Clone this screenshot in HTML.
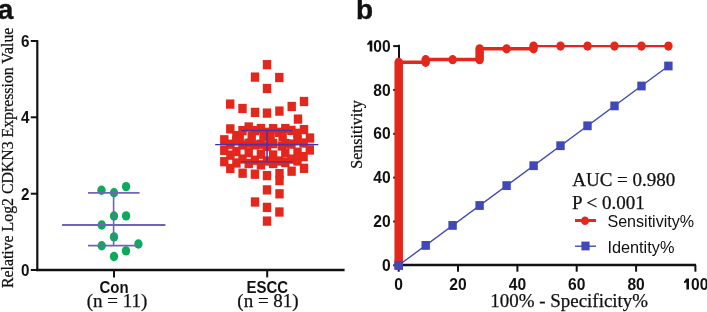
<!DOCTYPE html>
<html><head><meta charset="utf-8"><style>
html,body{margin:0;padding:0;background:#fff;width:707px;height:312px;overflow:hidden}
svg{display:block;will-change:transform}
.tb{font-family:"Liberation Sans",sans-serif;font-weight:bold;font-size:15.5px;fill:#111}
.ts{font-family:"Liberation Serif",serif;fill:#111;stroke:#111;stroke-width:0.25px}
.tr{font-family:"Liberation Sans",sans-serif;fill:#111}
</style></head><body>
<svg width="707" height="312" viewBox="0 0 707 312">
<line x1="37.3" y1="40.1" x2="37.3" y2="271.1" stroke="#111" stroke-width="2.2"/>
<line x1="30.8" y1="270.0" x2="37.3" y2="270.0" stroke="#111" stroke-width="2"/>
<line x1="30.8" y1="193.7" x2="37.3" y2="193.7" stroke="#111" stroke-width="2"/>
<line x1="30.8" y1="117.3" x2="37.3" y2="117.3" stroke="#111" stroke-width="2"/>
<line x1="30.8" y1="41.0" x2="37.3" y2="41.0" stroke="#111" stroke-width="2"/>
<line x1="36.2" y1="270" x2="344.6" y2="270" stroke="#111" stroke-width="2.4"/>
<line x1="114" y1="270" x2="114" y2="277.4" stroke="#111" stroke-width="2"/>
<line x1="267.2" y1="270" x2="267.2" y2="277.4" stroke="#111" stroke-width="2"/>
<text transform="translate(29.40 275.90) scale(1 1.08)" text-anchor="end" class="tb" style="font-size:15.2px">0</text>
<text transform="translate(29.40 199.56) scale(1 1.08)" text-anchor="end" class="tb" style="font-size:15.2px">2</text>
<text transform="translate(29.40 123.22) scale(1 1.08)" text-anchor="end" class="tb" style="font-size:15.2px">4</text>
<text transform="translate(29.40 46.88) scale(1 1.08)" text-anchor="end" class="tb" style="font-size:15.2px">6</text>
<text transform="translate(114.10 292.60) scale(1 1.1)" text-anchor="middle" class="tb" style="font-size:15px">Con</text>
<text transform="translate(267.20 292.60) scale(1 1.1)" text-anchor="middle" class="tb" style="font-size:15px">ESCC</text>
<text x="117" y="307" text-anchor="middle" class="ts" style="font-size:19px">(n = 11)</text>
<text x="268" y="307" text-anchor="middle" class="ts" style="font-size:19px">(n = 81)</text>
<text transform="translate(13 288) rotate(-90)" class="ts" style="font-size:15.8px">Relative Log2 CDKN3 Expression Value</text>
<text x="-2.3" y="19.2" class="tb" style="font-size:28px;stroke:#111;stroke-width:0.4">a</text>
<text x="356" y="19.2" class="tb" style="font-size:28px;stroke:#111;stroke-width:0.4">b</text>
<ellipse cx="101.5" cy="190.2" rx="4.2" ry="4.7" fill="#0DAA5C"/>
<ellipse cx="114" cy="192.7" rx="4.2" ry="4.7" fill="#0DAA5C"/>
<ellipse cx="126.1" cy="186.6" rx="4.2" ry="4.7" fill="#0DAA5C"/>
<ellipse cx="114" cy="216" rx="4.2" ry="4.7" fill="#0DAA5C"/>
<ellipse cx="126.1" cy="215.9" rx="4.2" ry="4.7" fill="#0DAA5C"/>
<ellipse cx="101.7" cy="225" rx="4.2" ry="4.7" fill="#0DAA5C"/>
<ellipse cx="114" cy="236.9" rx="4.2" ry="4.7" fill="#0DAA5C"/>
<ellipse cx="101.7" cy="245.7" rx="4.2" ry="4.7" fill="#0DAA5C"/>
<ellipse cx="126" cy="250.9" rx="4.2" ry="4.7" fill="#0DAA5C"/>
<ellipse cx="114" cy="256.5" rx="4.2" ry="4.7" fill="#0DAA5C"/>
<ellipse cx="138.4" cy="244" rx="4.2" ry="4.7" fill="#0DAA5C"/>
<line x1="62" y1="225" x2="165.4" y2="225" stroke="#7263BA" stroke-width="2"/>
<line x1="88" y1="192.8" x2="139.6" y2="192.8" stroke="#7263BA" stroke-width="1.8"/>
<line x1="88" y1="245.6" x2="139.2" y2="245.6" stroke="#7263BA" stroke-width="1.8"/>
<line x1="113.6" y1="192.8" x2="113.6" y2="245.6" stroke="#7263BA" stroke-width="1.6"/>
<rect x="262.80" y="60.05" width="8.4" height="9.3" fill="#E3271D"/>
<rect x="250.80" y="72.45" width="8.4" height="9.3" fill="#E3271D"/>
<rect x="275.10" y="72.85" width="8.4" height="9.3" fill="#E3271D"/>
<rect x="262.80" y="83.85" width="8.4" height="9.3" fill="#E3271D"/>
<rect x="226.00" y="99.45" width="8.4" height="9.3" fill="#E3271D"/>
<rect x="299.80" y="96.85" width="8.4" height="9.3" fill="#E3271D"/>
<rect x="238.30" y="103.85" width="8.4" height="9.3" fill="#E3271D"/>
<rect x="287.50" y="101.85" width="8.4" height="9.3" fill="#E3271D"/>
<rect x="250.80" y="107.75" width="8.4" height="9.3" fill="#E3271D"/>
<rect x="262.80" y="108.45" width="8.4" height="9.3" fill="#E3271D"/>
<rect x="275.20" y="106.45" width="8.4" height="9.3" fill="#E3271D"/>
<rect x="293.80" y="114.45" width="8.4" height="9.3" fill="#E3271D"/>
<rect x="244.50" y="122.35" width="8.4" height="9.3" fill="#E3271D"/>
<rect x="256.70" y="123.85" width="8.4" height="9.3" fill="#E3271D"/>
<rect x="268.90" y="124.05" width="8.4" height="9.3" fill="#E3271D"/>
<rect x="281.10" y="123.95" width="8.4" height="9.3" fill="#E3271D"/>
<rect x="226.10" y="124.25" width="8.4" height="9.3" fill="#E3271D"/>
<rect x="238.30" y="125.95" width="8.4" height="9.3" fill="#E3271D"/>
<rect x="250.60" y="125.95" width="8.4" height="9.3" fill="#E3271D"/>
<rect x="262.80" y="127.65" width="8.4" height="9.3" fill="#E3271D"/>
<rect x="275.00" y="127.65" width="8.4" height="9.3" fill="#E3271D"/>
<rect x="287.20" y="125.75" width="8.4" height="9.3" fill="#E3271D"/>
<rect x="299.80" y="124.95" width="8.4" height="9.3" fill="#E3271D"/>
<rect x="220.10" y="135.15" width="8.4" height="9.3" fill="#E3271D"/>
<rect x="232.20" y="130.95" width="8.4" height="9.3" fill="#E3271D"/>
<rect x="232.20" y="135.85" width="8.4" height="9.3" fill="#E3271D"/>
<rect x="244.50" y="138.55" width="8.4" height="9.3" fill="#E3271D"/>
<rect x="256.70" y="139.55" width="8.4" height="9.3" fill="#E3271D"/>
<rect x="268.90" y="138.95" width="8.4" height="9.3" fill="#E3271D"/>
<rect x="281.10" y="138.85" width="8.4" height="9.3" fill="#E3271D"/>
<rect x="293.30" y="128.65" width="8.4" height="9.3" fill="#E3271D"/>
<rect x="293.30" y="135.45" width="8.4" height="9.3" fill="#E3271D"/>
<rect x="305.80" y="133.35" width="8.4" height="9.3" fill="#E3271D"/>
<rect x="235.50" y="131.65" width="8.4" height="9.3" fill="#E3271D"/>
<rect x="247.50" y="131.55" width="8.4" height="9.3" fill="#E3271D"/>
<rect x="259.30" y="132.05" width="8.4" height="9.3" fill="#E3271D"/>
<rect x="266.40" y="132.65" width="8.4" height="9.3" fill="#E3271D"/>
<rect x="278.40" y="131.85" width="8.4" height="9.3" fill="#E3271D"/>
<rect x="226.20" y="139.55" width="8.4" height="9.3" fill="#E3271D"/>
<rect x="238.30" y="140.35" width="8.4" height="9.3" fill="#E3271D"/>
<rect x="250.60" y="140.25" width="8.4" height="9.3" fill="#E3271D"/>
<rect x="262.80" y="141.65" width="8.4" height="9.3" fill="#E3271D"/>
<rect x="277.60" y="141.35" width="8.4" height="9.3" fill="#E3271D"/>
<rect x="287.20" y="139.45" width="8.4" height="9.3" fill="#E3271D"/>
<rect x="299.40" y="138.35" width="8.4" height="9.3" fill="#E3271D"/>
<rect x="220.10" y="145.65" width="8.4" height="9.3" fill="#E3271D"/>
<rect x="232.20" y="146.85" width="8.4" height="9.3" fill="#E3271D"/>
<rect x="244.50" y="147.95" width="8.4" height="9.3" fill="#E3271D"/>
<rect x="256.70" y="149.55" width="8.4" height="9.3" fill="#E3271D"/>
<rect x="268.90" y="150.35" width="8.4" height="9.3" fill="#E3271D"/>
<rect x="281.10" y="148.35" width="8.4" height="9.3" fill="#E3271D"/>
<rect x="293.30" y="147.55" width="8.4" height="9.3" fill="#E3271D"/>
<rect x="305.60" y="145.35" width="8.4" height="9.3" fill="#E3271D"/>
<rect x="226.20" y="150.55" width="8.4" height="9.3" fill="#E3271D"/>
<rect x="238.30" y="154.35" width="8.4" height="9.3" fill="#E3271D"/>
<rect x="250.60" y="155.55" width="8.4" height="9.3" fill="#E3271D"/>
<rect x="262.80" y="156.35" width="8.4" height="9.3" fill="#E3271D"/>
<rect x="275.00" y="156.35" width="8.4" height="9.3" fill="#E3271D"/>
<rect x="287.20" y="154.45" width="8.4" height="9.3" fill="#E3271D"/>
<rect x="299.40" y="151.95" width="8.4" height="9.3" fill="#E3271D"/>
<rect x="220.10" y="157.05" width="8.4" height="9.3" fill="#E3271D"/>
<rect x="232.20" y="158.35" width="8.4" height="9.3" fill="#E3271D"/>
<rect x="244.50" y="158.85" width="8.4" height="9.3" fill="#E3271D"/>
<rect x="256.70" y="160.15" width="8.4" height="9.3" fill="#E3271D"/>
<rect x="268.90" y="158.85" width="8.4" height="9.3" fill="#E3271D"/>
<rect x="281.10" y="157.85" width="8.4" height="9.3" fill="#E3271D"/>
<rect x="293.30" y="156.35" width="8.4" height="9.3" fill="#E3271D"/>
<rect x="226.10" y="163.85" width="8.4" height="9.3" fill="#E3271D"/>
<rect x="238.40" y="168.55" width="8.4" height="9.3" fill="#E3271D"/>
<rect x="250.70" y="169.55" width="8.4" height="9.3" fill="#E3271D"/>
<rect x="262.80" y="170.95" width="8.4" height="9.3" fill="#E3271D"/>
<rect x="275.30" y="168.95" width="8.4" height="9.3" fill="#E3271D"/>
<rect x="287.40" y="166.55" width="8.4" height="9.3" fill="#E3271D"/>
<rect x="299.80" y="163.65" width="8.4" height="9.3" fill="#E3271D"/>
<rect x="275.30" y="175.95" width="8.4" height="9.3" fill="#E3271D"/>
<rect x="262.80" y="185.25" width="8.4" height="9.3" fill="#E3271D"/>
<rect x="275.30" y="189.15" width="8.4" height="9.3" fill="#E3271D"/>
<rect x="250.80" y="197.35" width="8.4" height="9.3" fill="#E3271D"/>
<rect x="262.80" y="202.75" width="8.4" height="9.3" fill="#E3271D"/>
<rect x="275.20" y="207.35" width="8.4" height="9.3" fill="#E3271D"/>
<rect x="262.80" y="216.45" width="8.4" height="9.3" fill="#E3271D"/>
<line x1="215.2" y1="144.5" x2="318.3" y2="144.5" stroke="#3A30AA" stroke-width="1.25"/>
<line x1="220.1" y1="144.5" x2="313.8" y2="144.5" stroke="#5031A6" stroke-width="1.3"/>
<line x1="241" y1="130.5" x2="292.4" y2="130.5" stroke="#5031A6" stroke-width="1.4"/>
<line x1="241" y1="161.9" x2="292.4" y2="161.9" stroke="#5031A6" stroke-width="1.4"/>
<line x1="267.05" y1="130.5" x2="267.05" y2="161.9" stroke="#5031A6" stroke-width="1.6"/>
<line x1="399.0" y1="44.8" x2="399.0" y2="266" stroke="#111" stroke-width="2"/>
<line x1="393.2" y1="265.3" x2="399.0" y2="265.3" stroke="#111" stroke-width="2"/>
<text transform="translate(390.60 270.90) scale(1 1.05)" text-anchor="end" class="tb" style="font-size:15.6px">0</text>
<line x1="393.2" y1="221.5" x2="399.0" y2="221.5" stroke="#111" stroke-width="2"/>
<text transform="translate(390.60 227.06) scale(1 1.05)" text-anchor="end" class="tb" style="font-size:15.6px">20</text>
<line x1="393.2" y1="177.6" x2="399.0" y2="177.6" stroke="#111" stroke-width="2"/>
<text transform="translate(390.60 183.22) scale(1 1.05)" text-anchor="end" class="tb" style="font-size:15.6px">40</text>
<line x1="393.2" y1="133.8" x2="399.0" y2="133.8" stroke="#111" stroke-width="2"/>
<text transform="translate(390.60 139.38) scale(1 1.05)" text-anchor="end" class="tb" style="font-size:15.6px">60</text>
<line x1="393.2" y1="89.9" x2="399.0" y2="89.9" stroke="#111" stroke-width="2"/>
<text transform="translate(390.60 95.54) scale(1 1.05)" text-anchor="end" class="tb" style="font-size:15.6px">80</text>
<line x1="393.2" y1="46.1" x2="399.0" y2="46.1" stroke="#111" stroke-width="2"/>
<text transform="translate(390.60 51.70) scale(1 1.05)" text-anchor="end" class="tb" style="font-size:15.6px">00</text>
<path d="M369.70,40.50 L372.30,40.50 L372.30,51.60 L369.70,51.60 L369.70,44.27 Q368.30,44.94 367.30,45.27 L367.30,43.39 Q368.50,42.39 369.60,40.50 Z" fill="#111"/>
<line x1="398.5" y1="265" x2="696" y2="265" stroke="#111" stroke-width="2.4"/>
<line x1="398.7" y1="265" x2="398.7" y2="271.7" stroke="#111" stroke-width="2"/>
<text transform="translate(398.70 289.60) scale(1 1.05)" text-anchor="middle" class="tb" style="font-size:15.6px">0</text>
<line x1="458.0" y1="265" x2="458.0" y2="271.7" stroke="#111" stroke-width="2"/>
<text transform="translate(458.04 289.60) scale(1 1.05)" text-anchor="middle" class="tb" style="font-size:15.6px">20</text>
<line x1="517.4" y1="265" x2="517.4" y2="271.7" stroke="#111" stroke-width="2"/>
<text transform="translate(517.38 289.60) scale(1 1.05)" text-anchor="middle" class="tb" style="font-size:15.6px">40</text>
<line x1="576.7" y1="265" x2="576.7" y2="271.7" stroke="#111" stroke-width="2"/>
<text transform="translate(576.72 289.60) scale(1 1.05)" text-anchor="middle" class="tb" style="font-size:15.6px">60</text>
<line x1="636.1" y1="265" x2="636.1" y2="271.7" stroke="#111" stroke-width="2"/>
<text transform="translate(636.06 289.60) scale(1 1.05)" text-anchor="middle" class="tb" style="font-size:15.6px">80</text>
<line x1="695.4" y1="265" x2="695.4" y2="271.7" stroke="#111" stroke-width="2"/>
<text transform="translate(691.06 289.60) scale(1 1.05)" text-anchor="start" class="tb" style="font-size:15.6px">00</text>
<path d="M686.40,278.60 L689.00,278.60 L689.00,289.60 L686.40,289.60 L686.40,282.34 Q685.00,283.00 684.00,283.33 L684.00,281.46 Q685.20,280.47 686.30,278.60 Z" fill="#111"/>
<text transform="translate(362.3 168.7) rotate(-90)" class="ts" style="font-size:16px">Sensitivity</text>
<text x="490.3" y="307.1" class="ts" style="font-size:18.95px">100% - Specificity%</text>
<line x1="398.7" y1="265.3" x2="668.4" y2="66.0" stroke="#4149B9" stroke-width="1.4"/>
<rect x="394.5" y="260.9" width="8.4" height="8.8" fill="#4149B9"/>
<rect x="421.5" y="241.0" width="8.4" height="8.8" fill="#4149B9"/>
<rect x="448.4" y="221.0" width="8.4" height="8.8" fill="#4149B9"/>
<rect x="475.4" y="201.1" width="8.4" height="8.8" fill="#4149B9"/>
<rect x="502.4" y="181.2" width="8.4" height="8.8" fill="#4149B9"/>
<rect x="529.4" y="161.3" width="8.4" height="8.8" fill="#4149B9"/>
<rect x="556.3" y="141.3" width="8.4" height="8.8" fill="#4149B9"/>
<rect x="583.3" y="121.4" width="8.4" height="8.8" fill="#4149B9"/>
<rect x="610.3" y="101.5" width="8.4" height="8.8" fill="#4149B9"/>
<rect x="637.3" y="81.6" width="8.4" height="8.8" fill="#4149B9"/>
<rect x="664.2" y="61.6" width="8.4" height="8.8" fill="#4149B9"/>
<path d="M398.7,265.3 L398.7,62.3 L425.7,62.3 L425.7,59.6 L479.6,59.6 L479.6,48.8 L533.6,48.8 L533.6,46.1" fill="none" stroke="#E3271D" stroke-width="3.5"/>
<line x1="533.6" y1="46.1" x2="668.4" y2="46.1" stroke="#E3271D" stroke-width="2.1"/>
<rect x="394.45" y="57.74" width="8.5" height="212.16" rx="4.25" ry="4.6" fill="#E3271D"/>
<rect x="421.42" y="55.03" width="8.5" height="11.91" rx="4.25" ry="4.6" fill="#E3271D"/>
<rect x="448.40" y="55.03" width="8.5" height="9.20" rx="4.25" ry="4.6" fill="#E3271D"/>
<rect x="475.37" y="44.21" width="8.5" height="20.02" rx="4.25" ry="4.6" fill="#E3271D"/>
<rect x="502.34" y="44.21" width="8.5" height="9.20" rx="4.25" ry="4.6" fill="#E3271D"/>
<rect x="529.31" y="41.50" width="8.5" height="11.91" rx="4.25" ry="4.6" fill="#E3271D"/>
<rect x="556.29" y="41.50" width="8.5" height="9.20" rx="4.25" ry="4.6" fill="#E3271D"/>
<rect x="583.26" y="41.50" width="8.5" height="9.20" rx="4.25" ry="4.6" fill="#E3271D"/>
<rect x="610.23" y="41.50" width="8.5" height="9.20" rx="4.25" ry="4.6" fill="#E3271D"/>
<rect x="637.20" y="41.50" width="8.5" height="9.20" rx="4.25" ry="4.6" fill="#E3271D"/>
<rect x="664.18" y="41.50" width="8.5" height="9.20" rx="4.25" ry="4.6" fill="#E3271D"/>
<rect x="394.5" y="260.9" width="8.4" height="8.8" fill="#4149B9"/>
<text x="572.2" y="186.4" class="ts" style="font-size:19px">AUC = 0.980</text>
<text x="572" y="209" class="ts" style="font-size:19px">P &lt; 0.001</text>
<line x1="575" y1="220.5" x2="596" y2="220.5" stroke="#E3271D" stroke-width="3"/>
<ellipse cx="585" cy="220.8" rx="4" ry="4.3" fill="#E3271D"/>
<text x="607.4" y="227.3" class="tr" style="font-size:16.1px">Sensitivity%</text>
<line x1="575" y1="246.2" x2="596" y2="246.2" stroke="#4149B9" stroke-width="1.4"/>
<rect x="581.4" y="241.6" width="8.2" height="8.8" fill="#4149B9"/>
<text x="607.4" y="253.1" class="tr" style="font-size:16.3px">Identity%</text>
</svg>
</body></html>
